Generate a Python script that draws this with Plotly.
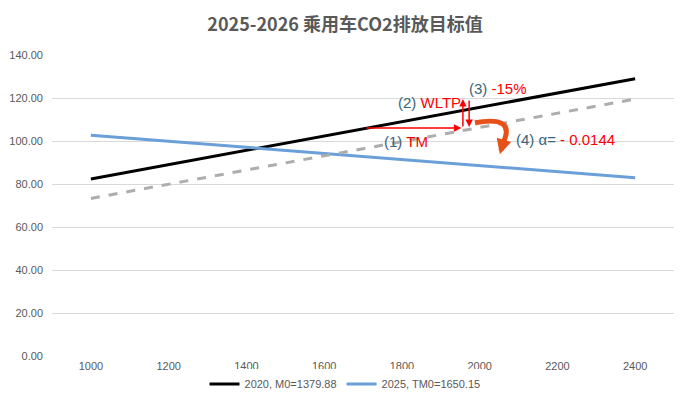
import plotly.graph_objects as go

mass = [1000, 1200, 1400, 1600, 1800, 2000, 2200, 2400]
target_2020 = [82.35, 89.01, 95.67, 102.33, 108.99, 115.65, 122.31, 128.97]
target_2025 = [102.7, 99.9, 97.0, 94.2, 91.4, 88.6, 85.7, 82.9]
target_dash = [73.3, 79.9, 86.5, 93.1, 99.7, 106.3, 112.9, 119.5]
y_ticks = [0, 20, 40, 60, 80, 100, 120, 140]
y_tick_labels = ["0.00", "20.00", "40.00", "60.00", "80.00", "100.00", "120.00", "140.00"]

TEAL = "#3B6479"
RED = "#FF0000"
GREY = "#595959"

fig = go.Figure()
fig.add_trace(go.Scatter(x=mass, y=target_2020, mode="lines", name="2020, M0=1379.88",
                         line=dict(color="#000000", width=3)))
fig.add_trace(go.Scatter(x=mass, y=target_2025, mode="lines", name="2025, TM0=1650.15",
                         line=dict(color="#6A9FD8", width=3)))
fig.add_trace(go.Scatter(x=mass, y=target_dash, mode="lines", showlegend=False,
                         line=dict(color="#ADADAD", width=3, dash="dash")))

font = "Liberation Sans, Arial, sans-serif"

def rich(a, b):
    return f"<span style='color:{TEAL}'>{a}</span><span style='color:{RED}'>{b}</span>"

anns = [
    (1872, 117.7, rich("(2) ", "WLTP")),
    (2047, 124.2, rich("(3) ", "-15%")),
    (1811, 100.0, rich("(1) ", "TM")),
    (2222, 100.9, rich("(4) α= ", "- 0.0144")),
]
for x, y, t in anns:
    fig.add_annotation(x=x, y=y, text=t, showarrow=False, font=dict(size=15, family=font),
                       xanchor="center", yanchor="middle")

# red arrows
fig.add_annotation(x=1953, y=106.0, ax=1705, ay=106.0, axref="x", ayref="y", xref="x", yref="y",
                   text="", showarrow=True, arrowhead=2, arrowsize=1, arrowwidth=1.5, arrowcolor=RED)
fig.add_annotation(x=1957, y=119.5, ax=1957, ay=106.0, axref="x", ayref="y", xref="x", yref="y",
                   text="", showarrow=True, arrowhead=2, arrowsize=1, arrowwidth=1.5, arrowcolor=RED)
fig.add_annotation(x=1973, y=106.5, ax=1973, ay=119.5, axref="x", ayref="y", xref="x", yref="y",
                   text="", showarrow=True, arrowhead=2, arrowsize=1, arrowwidth=1.5, arrowcolor=RED)

# curved orange arrow
fig.add_shape(type="path", path="M 1988,108.5 Q 2095,112 2060,99",
              line=dict(color="#E8501A", width=5), xref="x", yref="y")
fig.add_annotation(x=2052, y=93.8, ax=2061, ay=99.5, axref="x", ayref="y", xref="x", yref="y",
                   text="", showarrow=True, arrowhead=2, arrowsize=0.6, arrowwidth=5, arrowcolor="#E8501A")

fig.update_layout(
    width=680, height=404,
    margin=dict(l=44, r=14, t=47, b=56, autoexpand=False),
    paper_bgcolor="white", plot_bgcolor="white",
    title=dict(text="2025-2026 乘用车CO2排放目标值", x=0.4956, xanchor="center", xref="container",
               y=0.958, yanchor="middle", yref="container", automargin=False,
               font=dict(size=18, color=GREY, family="Noto Sans CJK SC, sans-serif", weight="bold")),
    font=dict(family=font, color=GREY, size=11),
    legend=dict(orientation="h", xref="container", x=0.4956, xanchor="center", y=-0.093, yanchor="middle",
                font=dict(size=11, color=GREY)),
    xaxis=dict(range=[900, 2500], tickvals=mass, showgrid=False, zeroline=False, showline=False,
               ticks="", tickfont=dict(size=11, color=GREY), automargin=False, ticklabelstandoff=2),
    yaxis=dict(range=[0, 140], tickvals=y_ticks, ticktext=y_tick_labels, showgrid=True,
               gridcolor="#D9D9D9", gridwidth=1, zeroline=False, showline=False, ticks="",
               tickfont=dict(size=11, color=GREY), automargin=False, ticklabelstandoff=8),
)

fig.write_html("out.html")
